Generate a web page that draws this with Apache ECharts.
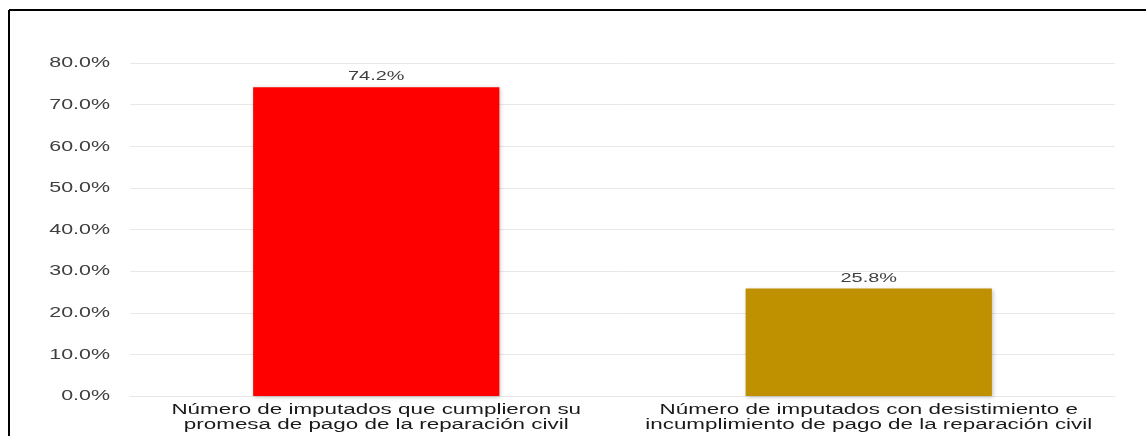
<!DOCTYPE html>
<html>
<head>
<meta charset="utf-8">
<script src="https://cdn.jsdelivr.net/npm/echarts@6/dist/echarts.min.js"></script>
<style>
  html, body { margin: 0; padding: 0; background: #ffffff; }
  #chart { width: 1146px; height: 436px; }
</style>
</head>
<body>
<div id="chart"></div>
<script>
// Categories and percentage values
const categories = [
  'Número de imputados que cumplieron su\npromesa de pago de la reparación civil',
  'Número de imputados con desistimiento e\nincumplimiento de pago de la reparación civil'
];
const percentages = [74.2, 25.8];
const barColors = ['#ff0000', '#bf9000'];
const yTickValues = [0, 10, 20, 30, 40, 50, 60, 70, 80];
const yTickLabels = ['0.0%', '10.0%', '20.0%', '30.0%', '40.0%', '50.0%', '60.0%', '70.0%', '80.0%'];

const FONT = 'Liberation Sans, Arial, sans-serif';
const STRETCH = 1.53;       // wide, horizontally stretched lettering
const STRETCH_CAT = 1.6;    // category labels run a little wider

const chart = echarts.init(document.getElementById('chart'), null, { renderer: 'canvas' });

chart.setOption({
  animation: false,
  backgroundColor: '#ffffff',
  textStyle: { fontFamily: FONT },
  grid: { left: 130, right: 31, top: 63, bottom: 40, containLabel: false },
  xAxis: {
    type: 'category',
    data: categories,
    axisLine: { show: true, lineStyle: { color: '#e6e6e6' } },
    axisTick: { show: false },
    axisLabel: { show: false }
  },
  yAxis: {
    type: 'value',
    min: yTickValues[0],
    max: yTickValues[yTickValues.length - 1],
    interval: yTickValues[1] - yTickValues[0],
    axisLine: { show: false },
    axisTick: { show: false },
    splitLine: { lineStyle: { color: '#e8e8e8', width: 1 } },
    axisLabel: { show: false }
  },
  series: [{
    type: 'bar',
    barWidth: '50%',
    data: percentages.map((v, i) => ({
      value: v,
      itemStyle: {
        color: barColors[i],
        shadowColor: 'rgba(0,0,0,0.25)',
        shadowBlur: 4,
        shadowOffsetX: 1,
        shadowOffsetY: 1
      }
    }))
  }]
});

// Stretched text: tick labels, category labels and value labels,
// positioned through the chart's own axes.
function stretchedText(text, x, y, stretch, opts) {
  return {
    type: 'text',
    x: x,
    y: y,
    scaleX: stretch,
    silent: true,
    z: 10,
    style: Object.assign({
      text: text,
      fontFamily: FONT,
      fontSize: 14,
      fill: '#404040'
    }, opts)
  };
}

const elements = [
  // frame: top and left edges
  { type: 'line', shape: { x1: 9, y1: 10, x2: 1146, y2: 10 }, style: { stroke: '#000', lineWidth: 2 } },
  { type: 'line', shape: { x1: 9, y1: 10, x2: 9, y2: 436 }, style: { stroke: '#000', lineWidth: 2 } }
];

yTickValues.forEach((v, i) => {
  const py = chart.convertToPixel({ yAxisIndex: 0 }, v);
  elements.push(stretchedText(yTickLabels[i], 110, py + 0.5, STRETCH, { align: 'right', verticalAlign: 'middle' }));
});

const axisY = chart.convertToPixel({ yAxisIndex: 0 }, 0);
categories.forEach((c, i) => {
  const px = chart.convertToPixel({ xAxisIndex: 0 }, i);
  elements.push(stretchedText(c, px, axisY + 7, STRETCH_CAT, {
    align: 'center', verticalAlign: 'top', lineHeight: 14.5, fill: '#1a1a1a'
  }));
  const top = chart.convertToPixel({ yAxisIndex: 0 }, percentages[i]);
  elements.push(stretchedText(percentages[i].toFixed(1) + '%', px, top - 4, STRETCH, {
    align: 'center', verticalAlign: 'bottom', fontSize: 13
  }));
});

chart.setOption({ graphic: elements });
</script>
</body>
</html>
